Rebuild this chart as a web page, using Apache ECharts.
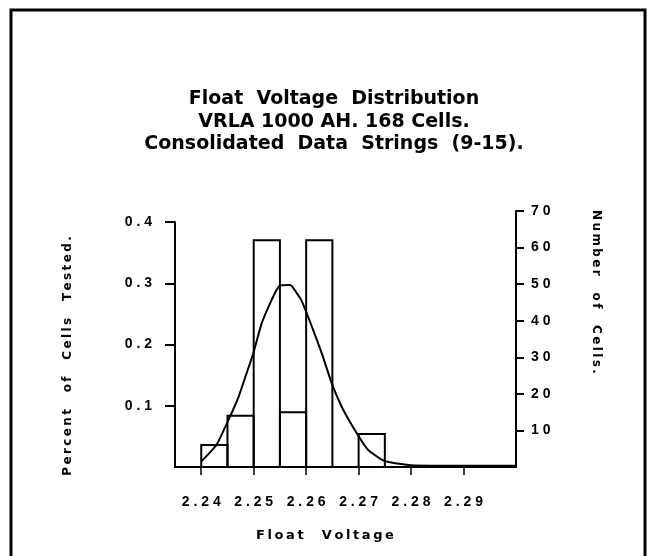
<!DOCTYPE html>
<html>
<head>
<meta charset="utf-8">
<script src="https://cdn.jsdelivr.net/npm/echarts@6/dist/echarts.min.js"></script>
<style>
  html, body { margin: 0; padding: 0; background: #fff; }
  #main { width: 648px; height: 556px; }
</style>
</head>
<body>
<div id="main"></div>
<script>
// histogram bins (volts) and number of cells in each
var binStart = [2.240, 2.245, 2.250, 2.255, 2.260, 2.270];
var binEnd = [2.245, 2.250, 2.255, 2.260, 2.265, 2.275];
var cellCount = [6, 14, 62, 15, 62, 9];

// fitted distribution curve (fraction of cells tested)
var curveVolt = [2.2400, 2.2429, 2.2452, 2.2471, 2.2486, 2.2499, 2.2515, 2.2528, 2.2541, 2.2550,
  2.2566, 2.2572, 2.2591, 2.2611, 2.2630, 2.2649, 2.2668, 2.2693, 2.2718, 2.2744,
  2.2757, 2.2800, 2.2900, 2.3000];
var curvePct = [0.009, 0.036, 0.077, 0.114, 0.152, 0.185, 0.234, 0.261, 0.285, 0.296,
  0.297, 0.296, 0.272, 0.229, 0.185, 0.136, 0.098, 0.060, 0.028, 0.012,
  0.008, 0.003, 0.002, 0.002];

// tick labels
var voltTicks = [2.24, 2.25, 2.26, 2.27, 2.28, 2.29];
var pctTicks = [0.1, 0.2, 0.3, 0.4];
var countTicks = [10, 20, 30, 40, 50, 60, 70];

var black = '#000';
var tickFont = { fontFamily: 'Liberation Sans', fontWeight: 'bold', fontSize: 14, color: black };

// spread characters apart like the old plotter lettering
function spaced(s, gap) {
  return String(s).split('').join(gap || ' ');
}
function spacedWords(s) {
  return s.split(' ').map(function (w) { return spaced(w, '\u2009'); }).join('    ');
}

var chart = echarts.init(document.getElementById('main'));

var curveData = curveVolt.map(function (v, i) { return [v, curvePct[i]]; });
var barData = binStart.map(function (v, i) { return [v, binEnd[i], cellCount[i]]; });

var nameStyle = {
  fontFamily: 'DejaVu Sans',
  fontWeight: 'bold',
  fontSize: 12,
  fill: black,
  align: 'center',
  verticalAlign: 'middle'
};

chart.setOption({
  backgroundColor: '#fff',
  animation: false,
  title: {
    text: 'Float  Voltage  Distribution\nVRLA 1000 AH. 168 Cells.\nConsolidated  Data  Strings  (9-15).',
    left: 329,
    top: 83,
    textAlign: 'center',
    textStyle: {
      fontFamily: 'DejaVu Sans',
      fontWeight: 'bold',
      fontSize: 19,
      lineHeight: 22.5,
      color: black
    }
  },
  grid: [
    { left: 175, right: 132, top: 222, bottom: 89, containLabel: false, outerBoundsMode: 'none' },
    { left: 175, right: 132, top: 211, bottom: 89, containLabel: false, outerBoundsMode: 'none' }
  ],
  xAxis: [
    {
      type: 'value',
      gridIndex: 0,
      min: 2.235,
      max: 2.30,
      axisLine: { show: true, lineStyle: { color: black, width: 2 } },
      axisTick: { show: false },
      splitLine: { show: false },
      axisLabel: Object.assign({
        customValues: voltTicks,
        margin: 28,
        formatter: function (v) { return spaced(v.toFixed(2)); }
      }, tickFont)
    },
    {
      type: 'value',
      gridIndex: 1,
      min: 2.235,
      max: 2.30,
      offset: 6,
      axisLine: { show: false },
      axisTick: { show: true, customValues: voltTicks, length: 8, lineStyle: { color: black, width: 1.5 } },
      splitLine: { show: false },
      axisLabel: { show: false }
    }
  ],
  yAxis: [
    {
      type: 'value',
      gridIndex: 0,
      position: 'left',
      min: 0,
      max: 0.4,
      axisLine: { show: true, lineStyle: { color: black, width: 2 } },
      axisTick: { show: true, customValues: pctTicks, length: 10, lineStyle: { color: black, width: 2 } },
      splitLine: { show: false },
      axisLabel: Object.assign({
        customValues: pctTicks,
        margin: 23,
        formatter: function (v) { return spaced(v.toFixed(1)); }
      }, tickFont)
    },
    {
      type: 'value',
      gridIndex: 1,
      position: 'right',
      min: 0,
      max: 70,
      axisLine: { show: true, lineStyle: { color: black, width: 2 } },
      axisTick: { show: true, customValues: countTicks, length: 8, lineStyle: { color: black, width: 2 } },
      splitLine: { show: false },
      axisLabel: Object.assign({
        customValues: countTicks,
        margin: 15,
        formatter: function (v) { return spaced(v); }
      }, tickFont)
    }
  ],
  series: [
    {
      type: 'custom',
      name: 'Cells',
      xAxisIndex: 1,
      yAxisIndex: 1,
      data: barData,
      renderItem: function (params, api) {
        var p0 = api.coord([api.value(0), api.value(2)]);
        var p1 = api.coord([api.value(1), 0]);
        return {
          type: 'rect',
          shape: { x: p0[0], y: p0[1], width: p1[0] - p0[0], height: p1[1] - p0[1] },
          style: { fill: 'none', stroke: black, lineWidth: 2 }
        };
      },
      z: 3
    },
    {
      type: 'line',
      name: 'Percent',
      xAxisIndex: 0,
      yAxisIndex: 0,
      data: curveData,
      smooth: 0.15,
      showSymbol: false,
      lineStyle: { color: black, width: 2 },
      z: 4
    }
  ],
  graphic: [
    {
      type: 'rect',
      shape: { x: 11, y: 10, width: 634, height: 560 },
      style: { fill: 'none', stroke: black, lineWidth: 3 }
    },
    {
      type: 'text',
      x: 68,
      y: 356,
      rotation: Math.PI / 2,
      style: Object.assign({ text: spacedWords('Percent of Cells Tested.') }, nameStyle)
    },
    {
      type: 'text',
      x: 596,
      y: 292,
      rotation: -Math.PI / 2,
      style: Object.assign({ text: spacedWords('Number of Cells.') }, nameStyle)
    },
    {
      type: 'text',
      x: 325,
      y: 536,
      style: Object.assign({}, nameStyle, { text: spacedWords('Float Voltage'), fontSize: 13 })
    }
  ]
});
</script>
</body>
</html>
